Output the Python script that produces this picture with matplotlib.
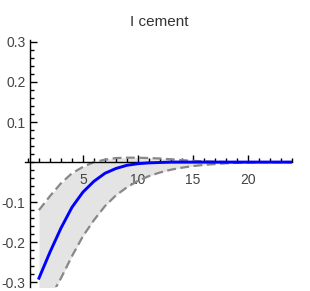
import matplotlib
matplotlib.use("Agg")
import matplotlib.pyplot as plt
import matplotlib.ticker as ticker

plt.rcParams["font.family"] = ["Liberation Sans", "DejaVu Sans"]

# impulse response, horizon 1..24
horizon = list(range(1, 25))
response = [-0.29, -0.225, -0.165, -0.113, -0.075, -0.048, -0.028, -0.016,
            -0.008, -0.004, -0.002, -0.001, 0, 0, 0, 0, 0, 0, 0, 0, 0, 0, 0, 0]
upper = [-0.12, -0.085, -0.053, -0.028, -0.012, 0.0, 0.006, 0.01, 0.011, 0.011,
         0.01, 0.009, 0.007, 0.005, 0.003, 0.002, 0.001, 0, 0, 0, 0, 0, 0, 0]
lower = [-0.40, -0.34, -0.29, -0.235, -0.185, -0.145, -0.11, -0.083, -0.063,
         -0.047, -0.035, -0.026, -0.019, -0.014, -0.01, -0.007, -0.005, -0.003,
         -0.002, -0.001, 0, 0, 0, 0]

title = "I cement"

fig = plt.figure(figsize=(3.10, 2.91), dpi=100)
ax = fig.add_axes([0.0806, 0.0137, 0.861, 0.849])

ax.fill_between(horizon, lower, upper, color="#e4e4e4", lw=0, zorder=1)
ax.plot(horizon, upper, color="#888888", lw=1.6, ls=(0, (4, 2)), zorder=2)
ax.plot(horizon, lower, color="#888888", lw=1.6, ls=(0, (4, 2)), zorder=2)
ax.plot(horizon, response, color="#0000ff", lw=2.1, zorder=4)

ax.set_xlim(-0.27, 24.0)
ax.set_ylim(-0.312, 0.305)

ax.spines[["top", "right"]].set_visible(False)
ax.spines["left"].set_position(("data", 0.15))
ax.spines["bottom"].set_position(("data", 0))
ax.spines["left"].set_zorder(3)
ax.spines["bottom"].set_zorder(3)
for s in ("left", "bottom"):
    ax.spines[s].set_linewidth(1.0)

ax.xaxis.set_major_locator(ticker.FixedLocator([5, 10, 15, 20]))
ax.xaxis.set_minor_locator(ticker.MultipleLocator(1))
ax.yaxis.set_major_locator(ticker.FixedLocator([-0.3, -0.2, -0.1, 0.1, 0.2, 0.3]))
ax.yaxis.set_minor_locator(ticker.MultipleLocator(0.02))
ax.yaxis.set_major_formatter(ticker.FuncFormatter(lambda v, p: f"{v:.1f}".replace("\u2212", "-")))

ax.tick_params(axis="x", which="major", direction="in", length=5, width=1,
               labelsize=10, labelcolor="#444444", pad=8)
ax.tick_params(axis="x", which="minor", direction="in", length=3, width=1)
ax.tick_params(axis="y", which="major", direction="in", length=5, width=1,
               labelsize=10, labelcolor="#444444", pad=3)
ax.tick_params(axis="y", which="minor", direction="in", length=3, width=1)

fig.text(0.515, 0.925, title, ha="center", va="center", fontsize=11, color="#333333")

fig.savefig("out.png", dpi=100)
